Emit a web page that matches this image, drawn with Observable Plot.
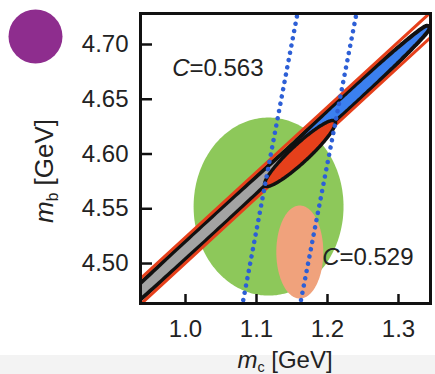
<!DOCTYPE html>
<html>
<head>
<meta charset="utf-8">
<script src="https://cdn.jsdelivr.net/npm/d3@7"></script>
<script src="https://cdn.jsdelivr.net/npm/@observablehq/plot@0.6"></script>
<style>
  body { margin: 0; background: #fff; }
  #wrap { position: relative; width: 435px; height: 374px; overflow: hidden; background: #f3f3f3; font-family: "Liberation Sans", Arial, sans-serif; color: #222; }
  #chart { position: absolute; left: 0; top: 0; }
  .lab { position: absolute; width: 220px; height: 26px; line-height: 26px; text-align: center; font-size: 24px; white-space: nowrap; }
  .lab i { font-style: italic; }
  .lab .sub { font-size: 0.6em; position: relative; top: 0.3em; }
</style>
</head>
<body>
<div id="wrap">
  <div id="chart"></div>
  <div class="lab" id="ylab" style="left:-66px; top:158px; font-size:26px; transform: rotate(-90deg);"><i>m</i><span class="sub">b</span> [GeV]</div>
  <div class="lab" id="xlab" style="left:175px; top:347px;"><i>m</i><span class="sub">c</span> [GeV]</div>
</div>
<script>
// axes
const xDomain = [0.9366, 1.3451];
const yDomain = [4.4635, 4.7283];
const xTicks = [1.0, 1.1, 1.2, 1.3];
const yTicks = [4.50, 4.55, 4.60, 4.65, 4.70];

// ellipses: [cx, cy, sx, sy, rho]  (mc, mb in GeV)
const greenEllipse  = [1.117, 4.552, 0.1056, 0.0813, 0];
const salmonEllipse = [1.161, 4.5105, 0.0331, 0.0425, 0];
const grayEllipse   = [1.030, 4.5301, 0.1800, 0.1072, 0.99846];
const blueEllipse   = [1.2304, 4.6495, 0.1104, 0.0658, 0.99592];
const redEllipse    = [1.1613, 4.6005, 0.0500, 0.0302, 0.931];

// red constraint lines [mc, mb]
const redUpper = [[0.93, 4.4824], [1.35, 4.7322]];
const redLower = [[0.93, 4.4587], [1.35, 4.7093]];

// blue dotted lines [mc, mb]
const dotLeft  = [[1.0794, 4.46], [1.1582, 4.73]];
const dotRight = [[1.1607, 4.46], [1.2413, 4.73]];

// annotations
const annText = ["=0.563", "=0.529"];
const annX = [1.0056, 1.2169];
const annY = [4.678, 4.5055];

function ellipse([cx, cy, sx, sy, rho], n = 240) {
  const k = Math.sqrt(1 - rho * rho);
  return d3.range(n).map(i => {
    const t = 2 * Math.PI * i / n;
    return {x: cx + sx * Math.cos(t), y: cy + sy * (rho * Math.cos(t) + k * Math.sin(t))};
  });
}
const toPts = arr => arr.map(([x, y]) => ({x, y}));

const grayPts = ellipse(grayEllipse);
const bluePts = ellipse(blueEllipse);
const ann = annText.map((t, i) => ({t, x: annX[i], y: annY[i]}));

const plotH = 355, mT = 13, mB = 52, mL = 140, mR = 5;
const frameH = plotH - mT - mB, frameW = 435 - mL - mR;
const closed = {x: "x", y: "y", curve: "linear-closed", clip: true};

const chart = Plot.plot({
  width: 435, height: plotH,
  marginLeft: mL, marginRight: mR, marginTop: mT, marginBottom: mB,
  x: {domain: xDomain},
  y: {domain: yDomain},
  style: {fontFamily: "'Liberation Sans', Arial, sans-serif", fontSize: "24px", color: "#222", background: "white", overflow: "visible"},
  marks: [
    Plot.line(ellipse(greenEllipse), {...closed, fill: "#8dc85a", stroke: "none"}),
    Plot.line(ellipse(salmonEllipse), {...closed, fill: "#f0a27c", stroke: "none"}),
    // union outline: strokes first, then fills
    Plot.line(grayPts, {...closed, fill: "none", stroke: "#111", strokeWidth: 8}),
    Plot.line(bluePts, {...closed, fill: "none", stroke: "#111", strokeWidth: 8}),
    Plot.line(grayPts, {...closed, fill: "#a3a3a3", stroke: "none"}),
    Plot.line(bluePts, {...closed, fill: "#3b80f0", stroke: "none"}),
    Plot.line(toPts(redUpper), {x: "x", y: "y", stroke: "#e6401b", strokeWidth: 3, clip: true}),
    Plot.line(toPts(redLower), {x: "x", y: "y", stroke: "#e6401b", strokeWidth: 3, clip: true}),
    Plot.line(ellipse(redEllipse), {...closed, fill: "#e6401b", stroke: "#111", strokeWidth: 3.5}),
    Plot.line(toPts(dotLeft), {x: "x", y: "y", stroke: "#2d5fd6", strokeWidth: 4.5, strokeDasharray: "0.1 7.3", strokeLinecap: "round", clip: true}),
    Plot.line(toPts(dotRight), {x: "x", y: "y", stroke: "#2d5fd6", strokeWidth: 4.5, strokeDasharray: "0.1 7.3", strokeLinecap: "round", clip: true}),
    Plot.text(ann, {x: "x", y: "y", text: () => "C", textAnchor: "end", fontStyle: "italic", fontSize: 24, fill: "#222"}),
    Plot.text(ann, {x: "x", y: "y", text: "t", textAnchor: "start", fontSize: 24, fill: "#222"}),
    Plot.frame({stroke: "#111", strokeWidth: 3}),
    Plot.tickX(xTicks, {x: d => d, insetTop: frameH - 9, stroke: "#111", strokeWidth: 2.5}),
    Plot.tickY(yTicks, {y: d => d, insetRight: frameW - 12, stroke: "#111", strokeWidth: 2.5}),
    Plot.axisX(xTicks, {tickSize: 0, tickPadding: 16, tickFormat: d3.format(".1f"), label: null, fontSize: 24}),
    Plot.axisY(yTicks, {tickSize: 0, tickPadding: 12, tickFormat: d3.format(".2f"), label: null, fontSize: 24}),
    Plot.dot([0], {frameAnchor: "top-left", dx: -105, dy: 23, r: 27, fill: "#8e2d8e", stroke: "none"})
  ]
});
document.getElementById("chart").appendChild(chart);
</script>
</body>
</html>
